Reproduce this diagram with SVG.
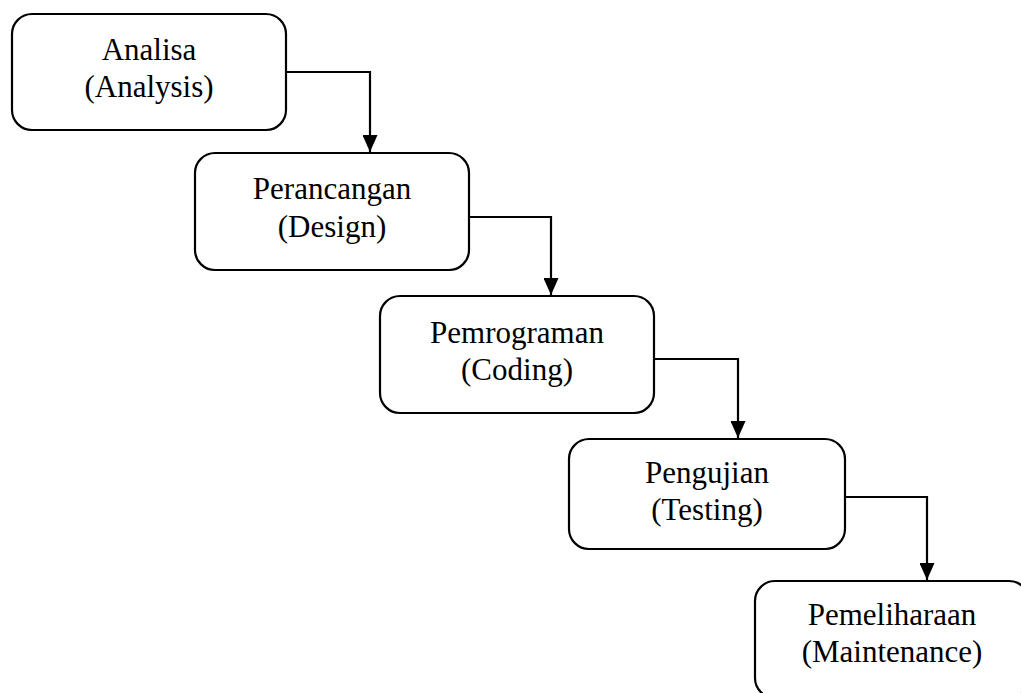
<svg xmlns="http://www.w3.org/2000/svg" width="1021" height="693" viewBox="0 0 1021 693">
<style>
.box{fill:#fff;stroke:#000;stroke-width:2.2}
.lbl{font-family:"Liberation Serif","Times New Roman",serif;font-size:31px;fill:#000;text-anchor:middle}
.conn{fill:none;stroke:#000;stroke-width:2.2}
</style>
<defs>
<marker id="arr" markerUnits="userSpaceOnUse" markerWidth="17" markerHeight="15" refX="17" refY="7.5" orient="auto" viewBox="0 0 17 15">
<path d="M0,0 L17,7.5 L0,15 Z" fill="#000"/>
</marker>
</defs>
<rect width="1021" height="693" fill="#fff"/>
<g id="connectors">
<path class="conn" d="M286,72 H370 V152" marker-end="url(#arr)"/>
<path class="conn" d="M469,217 H551 V295" marker-end="url(#arr)"/>
<path class="conn" d="M654,359 H738 V438" marker-end="url(#arr)"/>
<path class="conn" d="M845,497 H927 V580" marker-end="url(#arr)"/>
</g>
<g id="analisa">
<rect class="box" x="12" y="14" width="274" height="116" rx="20"/>
<text class="lbl" x="149" y="60">Analisa</text>
<text class="lbl" x="149" y="97">(Analysis)</text>
</g>
<g id="perancangan">
<rect class="box" x="195" y="153" width="274" height="117" rx="20"/>
<text class="lbl" x="332" y="199">Perancangan</text>
<text class="lbl" x="332" y="237">(Design)</text>
</g>
<g id="pemrograman">
<rect class="box" x="380" y="296" width="274" height="117" rx="20"/>
<text class="lbl" x="517" y="343">Pemrograman</text>
<text class="lbl" x="517" y="380">(Coding)</text>
</g>
<g id="pengujian">
<rect class="box" x="569" y="439" width="276" height="110" rx="20"/>
<text class="lbl" x="707" y="483">Pengujian</text>
<text class="lbl" x="707" y="520">(Testing)</text>
</g>
<g id="pemeliharaan">
<rect class="box" x="755" y="581" width="274" height="117" rx="20"/>
<text class="lbl" x="892" y="625">Pemeliharaan</text>
<text class="lbl" x="892" y="662">(Maintenance)</text>
</g>
</svg>
